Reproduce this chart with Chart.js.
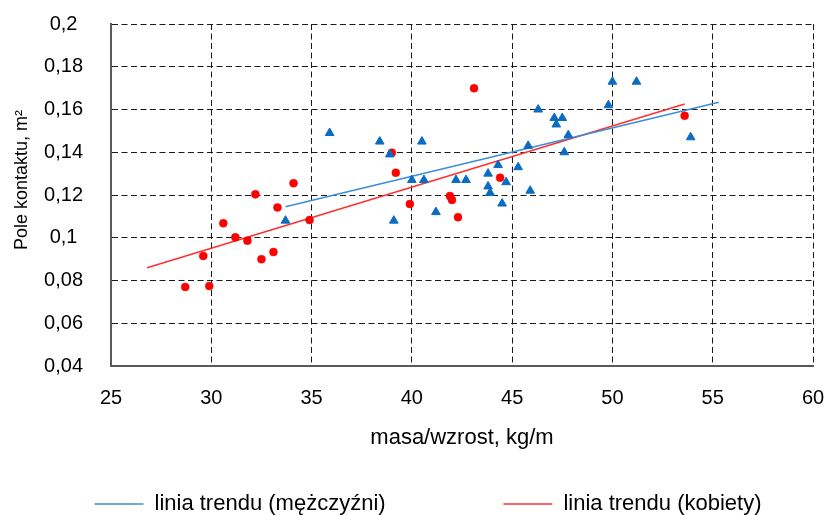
<!DOCTYPE html>
<html>
<head>
<meta charset="utf-8">
<script src="https://cdn.jsdelivr.net/npm/chart.js@4.4.0/dist/chart.umd.min.js"></script>
<style>
  html, body { margin: 0; padding: 0; background: #fff; }
  #wrap { width: 829px; height: 515px; }
</style>
</head>
<body>
<div id="wrap"><canvas id="chart" width="829" height="515"></canvas></div>
<script>
// mężczyźni (trójkąty)
const MEN_X = [33.7, 35.9, 38.4, 38.9, 40.5, 39.1, 40.0, 40.6, 41.2, 42.2, 42.7, 43.8, 43.8, 43.9, 44.3,
  44.5, 44.7, 45.3, 45.8, 45.9, 46.3, 47.1, 47.2, 47.5, 47.6, 47.8, 49.8, 50.0, 51.2, 53.9];
const MEN_Y = [0.108, 0.149, 0.145, 0.139, 0.145, 0.108, 0.127, 0.127, 0.112, 0.127, 0.127, 0.130, 0.124, 0.121, 0.134,
  0.116, 0.126, 0.133, 0.143, 0.122, 0.160, 0.156, 0.153, 0.156, 0.140, 0.148, 0.162, 0.173, 0.173, 0.147];

// kobiety (kółka)
const WOMEN_X = [28.7, 29.6, 29.9, 30.6, 31.2, 31.8, 32.2, 32.5, 33.1, 33.3, 34.1, 34.9, 39.0, 39.2,
  39.9, 41.9, 42.0, 42.3, 43.1, 44.4, 53.6];
const WOMEN_Y = [0.077, 0.0915, 0.0774, 0.1068, 0.1002, 0.0986, 0.1203, 0.090, 0.0933, 0.1142, 0.1255, 0.1083, 0.1398, 0.1304,
  0.1158, 0.1195, 0.1177, 0.1096, 0.1699, 0.1281, 0.1571];

// linie trendu (końce)
const MEN_TREND_X = [33.7, 55.3];
const MEN_TREND_Y = [0.1145, 0.1634];
const WOMEN_TREND_X = [26.8, 53.6];
const WOMEN_TREND_Y = [0.086, 0.1626];

const X_TICKS = [25, 30, 35, 40, 45, 50, 55, 60];
const Y_TICKS = [0.04, 0.06, 0.08, 0.1, 0.12, 0.14, 0.16, 0.18, 0.2];
const LEGEND_LABELS = ['linia trendu (mężczyźni)', 'linia trendu (kobiety)'];

const toXY = (xs, ys) => xs.map((x, i) => ({ x, y: ys[i] }));
const fmt = v => String(+v.toFixed(4)).replace('.', ',');

const ARIAL = "'Liberation Sans', Arial, sans-serif";

const grid = { color: '#1a1a1a', lineWidth: 1, drawTicks: false };
const border = { display: true, color: '#595959', width: 2, dash: [6, 3.5] };

new Chart(document.getElementById('chart'), {
  type: 'scatter',
  data: {
    datasets: [{
      label: 'mężczyźni',
      data: toXY(MEN_X, MEN_Y),
      pointStyle: 'triangle',
      pointRadius: 5,
      pointBackgroundColor: '#0a6cc0',
      pointBorderColor: '#0a6cc0',
      pointBorderWidth: 1,
    }, {
      label: 'kobiety',
      data: toXY(WOMEN_X, WOMEN_Y),
      pointStyle: 'circle',
      pointRadius: 4,
      pointBackgroundColor: '#ff0000',
      pointBorderColor: '#ff0000',
      pointBorderWidth: 0.5,
    }, {
      label: LEGEND_LABELS[0],
      data: toXY(MEN_TREND_X, MEN_TREND_Y),
      showLine: true,
      borderColor: '#3b8ed6',
      borderWidth: 1.6,
      pointRadius: 0,
      pointStyle: 'line',
      pointBorderColor: '#3b8ed6',
      pointBorderWidth: 1.6,
    }, {
      label: LEGEND_LABELS[1],
      data: toXY(WOMEN_TREND_X, WOMEN_TREND_Y),
      showLine: true,
      borderColor: '#ff3030',
      borderWidth: 1.6,
      pointRadius: 0,
      pointStyle: 'line',
      pointBorderColor: '#ff3030',
      pointBorderWidth: 1.6,
    }],
  },
  options: {
    responsive: false,
    animation: false,
    layout: { padding: { left: 43, right: 16, top: 24, bottom: -10 } },
    plugins: {
      tooltip: { enabled: false },
      legend: {
        position: 'bottom',
        labels: {
          usePointStyle: true,
          pointStyleWidth: 49,
          padding: 20,
          color: '#000',
          font: { family: ARIAL, size: 22 },
          generateLabels: chart => Chart.defaults.plugins.legend.labels.generateLabels(chart)
            .filter(l => l.datasetIndex >= 2)
            .map((l, i) => ({ ...l, text: i === 0 ? l.text + ' '.repeat(16) : l.text })),
        },
      },
    },
    scales: {
      x: {
        type: 'linear',
        min: 25, max: 60,
        afterBuildTicks: s => { s.ticks = X_TICKS.map(v => ({ value: v })); },
        afterFit: s => { s.height = 107; s.paddingLeft = 0; s.paddingRight = 0; },
        ticks: { color: '#000', padding: 20, font: { family: ARIAL, size: 20 }, callback: v => fmt(v) },
        grid, border,
        title: {
          display: true, text: 'masa/wzrost, kg/m', color: '#000',
          font: { family: ARIAL, size: 22 }, padding: { top: 0, bottom: 22 },
        },
      },
      y: {
        min: 0.04, max: 0.2,
        afterBuildTicks: s => { s.ticks = Y_TICKS.map(v => ({ value: v })); },
        afterFit: s => { s.width = 68; s.paddingTop = 0; s.paddingBottom = 0; },
        ticks: { color: '#000', padding: 28, crossAlign: 'center', font: { family: ARIAL, size: 20 }, callback: v => fmt(v) },
        grid, border,
        title: {
          display: true, text: ' '.repeat(6) + 'Pole kontaktu, m²', color: '#000',
          font: { family: ARIAL, size: 18 }, padding: { top: -32, bottom: 0 },
        },
      },
    },
  },
});
</script>
</body>
</html>
